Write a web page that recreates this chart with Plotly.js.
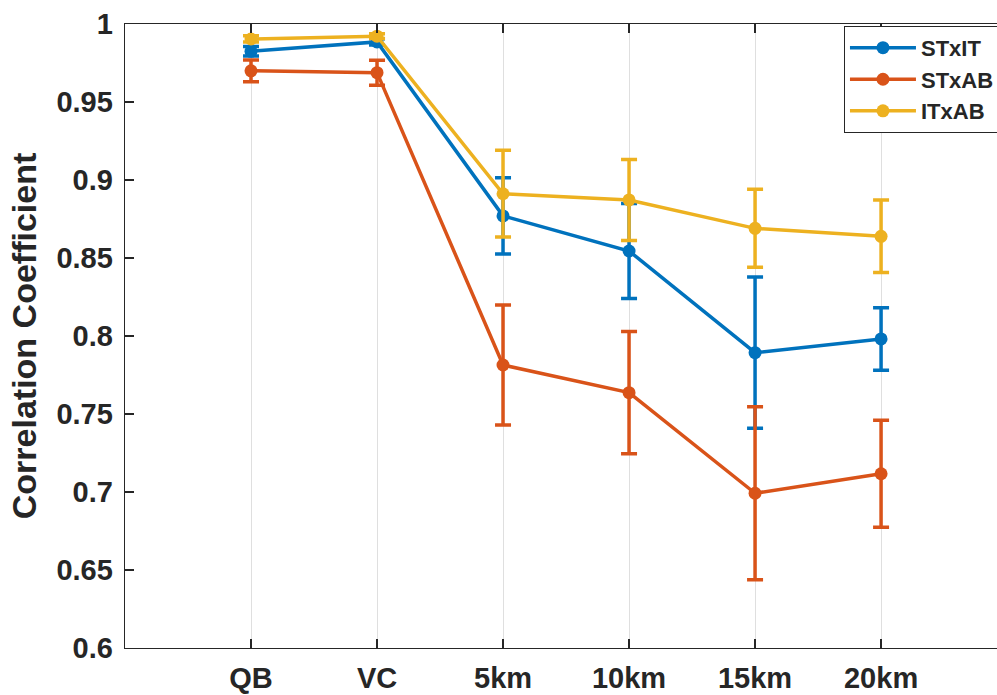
<!DOCTYPE html>
<html>
<head>
<meta charset="utf-8">
<script src="https://cdn.plot.ly/plotly-3.0.1.min.js"></script>
<style>html,body{margin:0;padding:0;background:#fff}#chart{width:997px;height:695px}</style>
</head>
<body>
<div id="chart"></div>
<script>
var categories = ['QB', 'VC', '5km', '10km', '15km', '20km'];
var stxit = [0.9825, 0.9885, 0.877, 0.8545, 0.7893, 0.7981];
var stxitErr = [0.003, 0.002, 0.0245, 0.0305, 0.0485, 0.020];
var stxab = [0.9700, 0.9688, 0.7814, 0.7637, 0.6992, 0.7117];
var stxabErr = [0.007, 0.008, 0.0384, 0.0392, 0.0555, 0.0343];
var itxab = [0.9904, 0.9922, 0.8912, 0.8872, 0.8690, 0.8639];
var itxabErr = [0.002, 0.0015, 0.0278, 0.026, 0.025, 0.0232];

var names = ['STxIT', 'STxAB', 'ITxAB'];
var colors = ['#0072BD', '#D95319', '#EDB120'];
var series = [stxit, stxab, itxab];
var errs = [stxitErr, stxabErr, itxabErr];

var traces = series.map(function (s, i) {
  return {
    x: categories,
    y: s,
    name: names[i],
    type: 'scatter',
    mode: 'lines+markers',
    line: {color: colors[i], width: 3.5},
    marker: {color: colors[i], size: 13, symbol: 'circle'},
    error_y: {type: 'data', array: errs[i], visible: true, color: colors[i], thickness: 3.5, width: 8}
  };
});

var axisColor = '#262626';
var fam = 'Liberation Sans, Arial, sans-serif';
var tickFont = {family: fam, size: 29, color: axisColor, weight: 'bold'};

var layout = {
  width: 997,
  height: 695,
  margin: {l: 125, r: 0, t: 24, b: 47, pad: 0, autoexpand: false},
  paper_bgcolor: '#ffffff',
  plot_bgcolor: '#ffffff',
  showlegend: true,
  xaxis: {
    type: 'category',
    range: [-1, 5.92],
    showgrid: true,
    gridcolor: '#dfdfdf',
    gridwidth: 1,
    zeroline: false,
    showline: true,
    linecolor: axisColor,
    linewidth: 1.3,
    mirror: 'ticks',
    ticks: 'inside',
    ticklen: 9,
    tickwidth: 1.3,
    tickcolor: axisColor,
    tickfont: tickFont,
    ticklabelstandoff: 4
  },
  yaxis: {
    range: [0.6, 1],
    tickvals: [0.6, 0.65, 0.7, 0.75, 0.8, 0.85, 0.9, 0.95, 1],
    ticktext: ['0.6', '0.65', '0.7', '0.75', '0.8', '0.85', '0.9', '0.95', '1'],
    showgrid: false,
    zeroline: false,
    showline: true,
    linecolor: axisColor,
    linewidth: 1.3,
    ticks: 'inside',
    ticklen: 9,
    tickwidth: 1.3,
    tickcolor: axisColor,
    tickfont: tickFont,
    ticklabelstandoff: 5,
    title: {text: 'Correlation Coefficient', font: {family: fam, size: 34, color: axisColor, weight: 'bold'}, standoff: 9}
  },
  legend: {
    x: 0.8245,
    y: 0.997,
    xanchor: 'left',
    yanchor: 'top',
    bgcolor: '#ffffff',
    bordercolor: axisColor,
    borderwidth: 1,
    font: {family: fam, size: 22, color: axisColor, weight: 'bold'},
    itemwidth: 66,
    tracegroupgap: 0
  }
};

Plotly.newPlot('chart', traces, layout, {displayModeBar: false, staticPlot: true});
</script>
</body>
</html>
